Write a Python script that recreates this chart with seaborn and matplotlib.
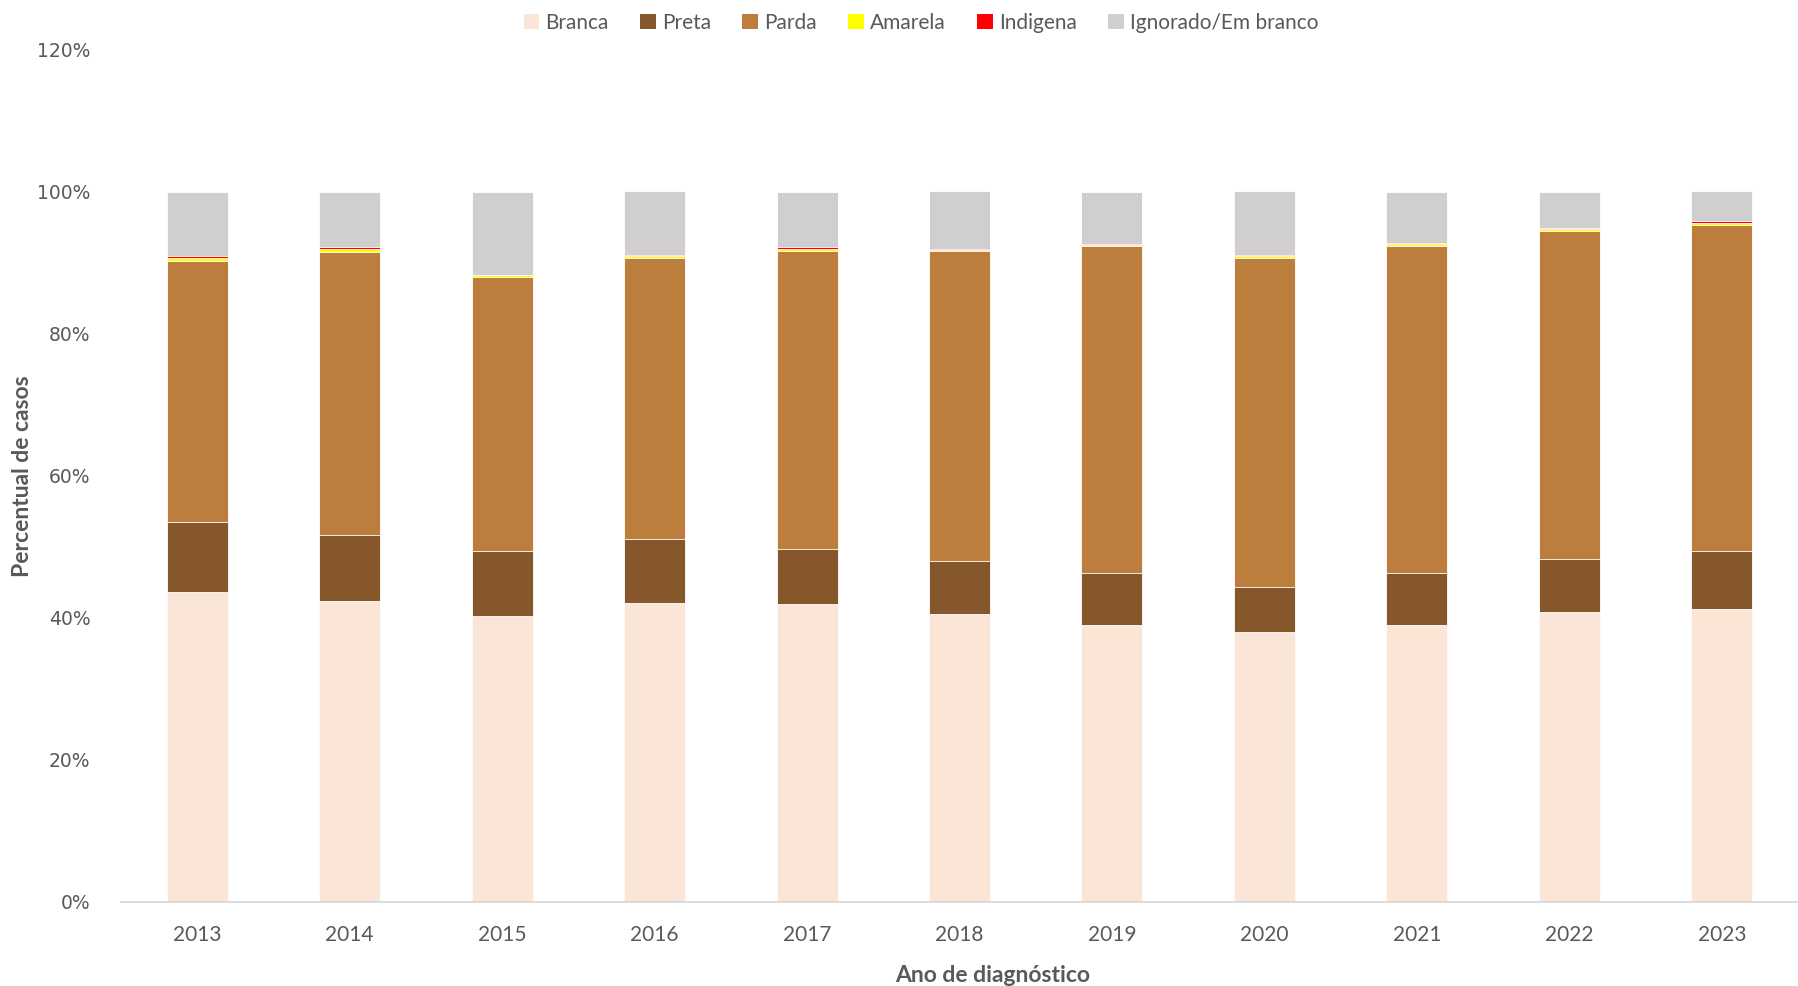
import matplotlib
matplotlib.use("Agg")
import matplotlib.pyplot as plt
from matplotlib.patches import Patch
import numpy as np
import pandas as pd
import seaborn as sns

# Percentual de casos por raça/cor, segundo ano de diagnóstico
anos = ["2013", "2014", "2015", "2016", "2017", "2018", "2019", "2020", "2021", "2022", "2023"]
branca = [43.55, 42.3, 40.2, 42.0, 41.9, 40.5, 39.0, 38.0, 38.9, 40.8, 41.2]
preta = [9.9, 9.3, 9.2, 9.1, 7.7, 7.5, 7.3, 6.25, 7.4, 7.5, 8.1]
parda = [36.75, 39.85, 38.6, 39.6, 42.0, 43.55, 46.0, 46.45, 46.0, 46.2, 46.0]
amarela = [0.5, 0.4, 0.2, 0.2, 0.3, 0.25, 0.2, 0.2, 0.33, 0.25, 0.3]
indigena = [0.15, 0.3, 0.05, 0.15, 0.3, 0.1, 0.1, 0.2, 0.05, 0.05, 0.2]
ignorado = [9.15, 7.85, 11.75, 8.95, 7.8, 8.15, 7.4, 8.9, 7.32, 5.2, 4.2]

categorias = ["Branca", "Preta", "Parda", "Amarela", "Indigena", "Ignorado/Em branco"]
series = [branca, preta, parda, amarela, indigena, ignorado]
cores = ["#FBE5D6", "#85572B", "#BD7D3D", "#FFFF00", "#FF0000", "#D0CECE"]

sns.set_theme(style="white")
plt.rcParams["font.family"] = ["Lato", "DejaVu Sans"]

fig = plt.figure(figsize=(17.98, 9.86), dpi=100)
ax = fig.add_axes([121 / 1798, 1 - 901.5 / 986, 1 - 121 / 1798, (901.5 - 49.5) / 986])

# Stacked bars: draw cumulative totals from the top segment down
df = pd.DataFrame({nome: vals for nome, vals in zip(categorias, series)}, index=anos)
cum = df.cumsum(axis=1)
for nome, cor in reversed(list(zip(categorias, cores))):
    sns.barplot(x=anos, y=cum[nome].values, color=cor, width=0.4, saturation=1,
                errorbar=None, ax=ax, edgecolor="white", linewidth=0.6)

ax.set_ylim(0, 120)
ax.set_xlim(-0.5, len(anos) - 0.5)
ax.set_yticks(np.arange(0, 121, 20))
ax.set_yticklabels([f"{v}%" for v in range(0, 121, 20)], fontfamily="DejaVu Sans",
                   fontsize=13.5, color="#595959")
ax.set_xticks(range(len(anos)))
ax.set_xticklabels(anos, fontsize=15, color="#595959")
ax.tick_params(axis="both", length=0)
ax.tick_params(axis="x", pad=17)
ax.tick_params(axis="y", pad=22)

for s in ["top", "right", "left"]:
    ax.spines[s].set_visible(False)
ax.spines["bottom"].set_color("#D9D9D9")
ax.spines["bottom"].set_linewidth(1.3)
ax.grid(False)

fig.text(23 / 1798, 1 - 476 / 986, "Percentual de casos", rotation=90, ha="center", va="center",
         fontsize=16.5, fontweight="bold", color="#595959")
fig.text(993 / 1798, 1 - 975 / 986, "Ano de diagnóstico", ha="center", va="center",
         fontsize=16.5, fontweight="bold", color="#595959")

handles = [Patch(facecolor=c, edgecolor="none", label=n) for n, c in zip(categorias, cores)]
leg = fig.legend(handles=handles, loc="center", bbox_to_anchor=(921 / 1798, 1 - 23 / 986),
                 ncol=6, frameon=False, fontsize=15, handlelength=0.75, handleheight=0.75,
                 handletextpad=0.3, columnspacing=1.5)
for t in leg.get_texts():
    t.set_color("#595959")

fig.savefig("out.png", dpi=100, facecolor="white")
